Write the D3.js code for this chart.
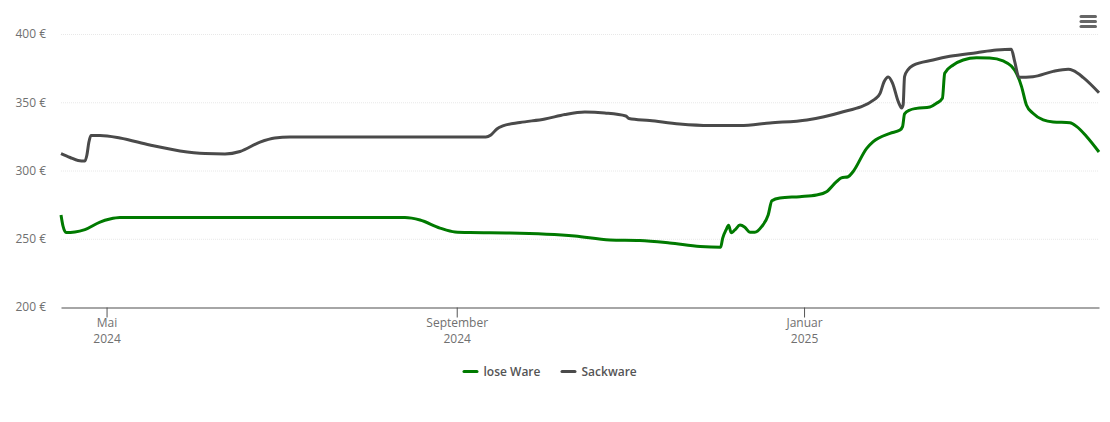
<!DOCTYPE html>
<html><head><meta charset="utf-8">
<script src="https://cdn.jsdelivr.net/npm/d3@7"></script>
<style>
html,body{margin:0;padding:0;background:#fff}
svg{display:block}
text{font-family:"Open Sans",sans-serif}
</style></head><body>
<svg id="chart" width="1110" height="422"></svg>
<script>
const startDate = "2024-04-15T00:00:00Z";
const endDate = "2025-04-14T14:24:00Z";
const seriesNames = ["lose Ware", "Sackware"];
const yTicks = [200, 250, 300, 350, 400];
const xTickDates = ["2024-05-01T00:00:00Z", "2024-09-01T00:00:00Z", "2025-01-01T00:00:00Z"];
const xTickLabels = [["Mai", "2024"], ["September", "2024"], ["Januar", "2025"]];

// days after startDate, euro values
const loseDays = [0,0.7,1.8,4.9,8.4,13.7,17.2,20.7,27.7,120.8,126.1,133.1,138.4,143.6,157.7,180.5,192.8,203.3,213.8,224.5,231.7,232.4,233.6,234.5,235.4,236.7,238.5,240.2,242,243.7,246.1,248.4,249.7,252.5,259.5,265.4,268.9,272.4,274.1,276.5,278.2,283,285.3,291.2,294.7,295.6,296.3,298.2,300.5,305.2,307.5,309.6,310.4,313.4,316.9,321.6,326.2,330.9,333.8,335.6,337.4,339.1,341.4,345,348.5,354.4,356.8,360.3,364.6];
const loseValues = [267.8,259.7,254.9,255.3,257.1,262.6,264.8,265.9,265.9,265.9,264.1,258.2,255.3,254.9,254.6,252.4,249.5,249.1,247.3,244.7,244.1,250.7,256.8,260.2,254.8,256.8,260.4,258.8,255.1,255.1,259.2,267.8,278.2,280.2,281.2,282.4,284.8,292.2,294.9,295.8,299.5,316.6,321.5,327.6,330,332.5,341.8,344.7,345.9,346.9,349.6,353.3,371.6,377.7,381.3,383,382.8,380.6,376.9,371.6,361.8,348.4,342.3,337.4,335.9,335.4,332.5,325.1,313.9];
const sackDays = [0,3.2,6,8.4,9.1,9.8,10.5,13.7,20.7,31.2,41.8,50.6,57.6,62.9,69.9,75.1,80.4,91,149.2,151,153.1,155.2,161.2,170,177,184,191,198.4,199.5,206.8,217.3,228,238.5,249,262,273.5,285.9,287.7,289.1,290.6,292.1,294.1,295.3,295.8,296.3,297.6,299.3,306.3,312.2,321.6,328.6,333.8,335,336.5,341.4,348.5,353.8,355.6,359.1,364.6];
const sackValues = [312.8,309.9,307.7,307.3,311.7,321.2,326,326,324.2,319,314.7,312.8,312.5,314.3,321.2,324.2,324.9,324.9,324.9,326.4,330.8,333,335.5,338.1,341.4,343.2,342.5,340.3,338.5,337,334.4,333.3,333.3,335.2,337.4,342.7,352.7,356.9,365.4,368.9,364.2,350.8,346.2,348.4,369.1,374.5,377.4,381.3,384,386.7,388.6,389.2,380.1,368.6,369.1,373,374.5,373.5,368.4,357.3];

const colors = ["#007a00", "#4a4a4a"];
const textColor = "#707070";
const svg = d3.select("#chart");
const parse = d3.isoParse;
const t0 = parse(startDate);
const toDate = d => new Date(+t0 + d * 864e5);

const x = d3.scaleUtc().domain([t0, parse(endDate)]).range([61, 1099]);
const y = d3.scaleLinear().domain([200, 400]).range([307.5, 34.5]);

// grid
svg.append("g").selectAll("line").data(yTicks.slice(1)).join("line")
  .attr("x1", 61).attr("x2", 1099)
  .attr("y1", d => y(d)).attr("y2", d => y(d))
  .attr("stroke", "#e8e8e8").attr("stroke-width", 1).attr("stroke-dasharray", "1 1");

// y axis
const yAxis = svg.append("g").attr("transform", "translate(46,0)")
  .call(d3.axisLeft(y).tickValues(yTicks).tickSize(0).tickPadding(0).tickFormat(d => d + " €"));
yAxis.select(".domain").remove();
yAxis.selectAll("text").attr("font-size", 12).attr("fill", textColor)
  .style("font-family", '"Open Sans",sans-serif').attr("dy", "0.28em");

// x axis
const xAxis = svg.append("g").attr("transform", "translate(0,307.5)")
  .call(d3.axisBottom(x).tickValues(xTickDates.map(parse)).tickSize(10).tickSizeOuter(0).tickFormat(""));
xAxis.select(".domain").attr("stroke", "#888888").attr("stroke-width", 1.4);
xAxis.selectAll(".tick line").attr("stroke", "#555555").attr("stroke-width", 1);
xAxis.selectAll(".tick text").each(function(d, i) {
  const t = d3.select(this).attr("font-size", 12).attr("fill", textColor)
    .style("font-family", '"Open Sans",sans-serif').attr("y", 0).attr("dy", null);
  xTickLabels[i].forEach((s, k) => t.append("tspan").attr("x", 0).attr("y", 19.5 + k * 15.5).text(s));
});

// lines
const line = d3.line().x(d => x(toDate(d[0]))).y(d => y(d[1])).curve(d3.curveMonotoneX);
const series = [d3.zip(loseDays, loseValues), d3.zip(sackDays, sackValues)];
svg.append("g").selectAll("path").data(series).join("path")
  .attr("d", line).attr("fill", "none")
  .attr("stroke", (d, i) => colors[i]).attr("stroke-width", 3)
  .attr("stroke-linejoin", "round").attr("stroke-linecap", "butt");

// legend
const legendX = [463, 561];
const leg = svg.append("g").selectAll("g").data(seriesNames).join("g")
  .attr("transform", (d, i) => `translate(${legendX[i]},371.5)`);
leg.append("line").attr("x1", 1).attr("x2", 14).attr("y1", 0).attr("y2", 0)
  .attr("stroke", (d, i) => colors[i]).attr("stroke-width", 3).attr("stroke-linecap", "round");
leg.append("text").attr("x", 20.5).attr("y", 4).attr("font-size", 12).attr("font-weight", 600)
  .attr("fill", "#555555").text(d => d);

// menu icon
svg.append("g").selectAll("line").data([0, 5, 10]).join("line")
  .attr("x1", 1081).attr("x2", 1095.5)
  .attr("y1", d => 16.5 + d).attr("y2", d => 16.5 + d)
  .attr("stroke", "#666666").attr("stroke-width", 3).attr("stroke-linecap", "round");
</script>
</body></html>
